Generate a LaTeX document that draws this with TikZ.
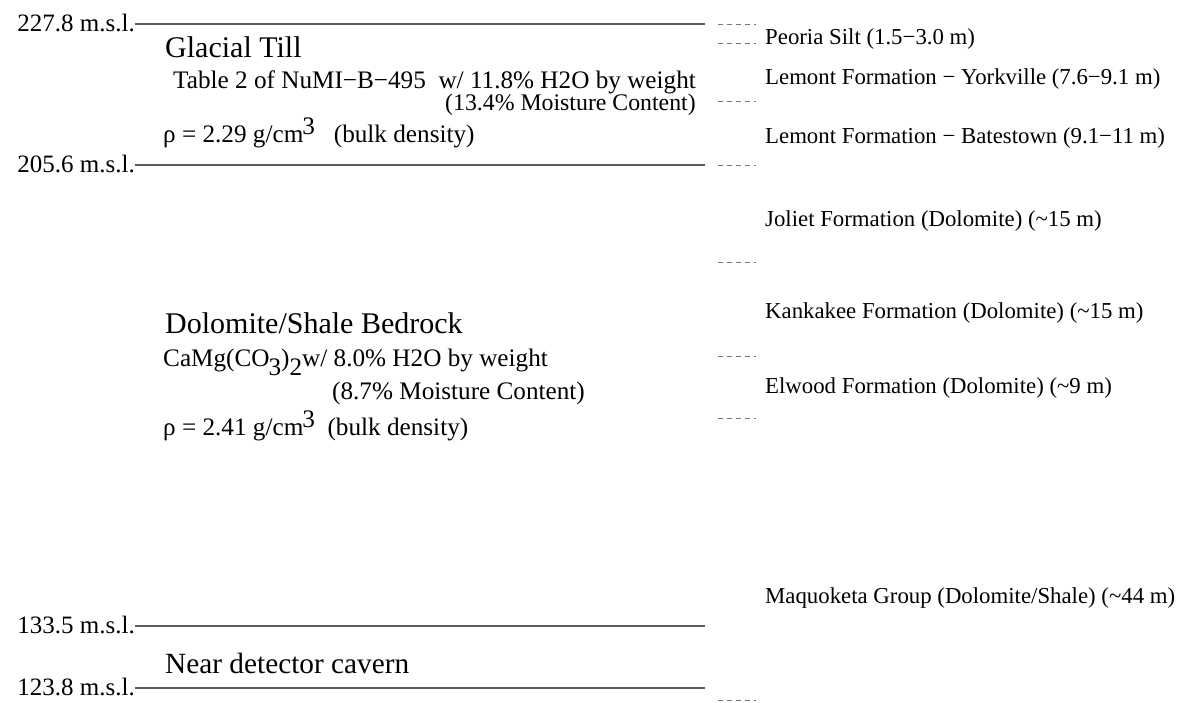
\documentclass[tikz,border=0pt]{standalone}
\usepackage{fontspec}
\setmainfont{Liberation Serif}
\usepackage{xcolor}
\usepackage{tikz}
\usetikzlibrary{positioning,calc}
\definecolor{bk70}{HTML}{5C5C5C}
\definecolor{bk50}{HTML}{7A7A7A}
\newcommand{\cmcube}{cm\kern-1pt\raisebox{8pt}{3}}
\tikzset{
  levellabel/.style={
    anchor=base east, inner sep=0pt,
    font=\fontsize{25}{28}\selectfont
  },
  layertitle/.style={
    anchor=base west, inner sep=0pt,
    font=\fontsize{30}{34}\selectfont
  },
  layerinfo/.style={
    anchor=base west, inner sep=0pt,
    font=\fontsize{25.2}{28}\selectfont
  },
  formlabel/.style={
    anchor=base west, inner sep=0pt,
    font=\fontsize{22.8}{26}\selectfont
  },
  levelline/.style={draw=bk70, line width=1.4pt},
  formtick/.style={draw=bk50, line width=0.8pt, dash pattern=on 5pt off 4pt},
}

\begin{document}
\begin{tikzpicture}[x=1pt,y=-1pt]
\useasboundingbox (0,0) rectangle (1195,702);

% Levels (m.s.l.)
\foreach \yy/\txt/\nm in {24/227.8/till, 165/205.6/rock, 626/133.5/cavtop, 688/123.8/cavbot}{
  \coordinate (\nm w) at (135,\yy);
  \coordinate (\nm e) at (705,\yy);
  \draw[levelline] (\nm w) -- (\nm e);
  \node[levellabel] (\nm lbl) at ([yshift=-7pt]\nm w) {\txt{} m.s.l.};
}

% Glacial till
\node[layertitle] (tilltitle) at (165,57) {Glacial Till};
\node[layerinfo] (tillwater) at (173,88) {Table 2 of NuMI−B−495\ \ w/ 11.8\% H2O by weight};
\node[layerinfo, font=\fontsize{23.8}{28}\selectfont] (tillmoist) at (445,110) {(13.4\% Moisture Content)};
\node[layerinfo] (tillrho) at (163,142) {ρ = 2.29 g/\cmcube\ \ \ (bulk density)};

% Bedrock
\node[layertitle] (rocktitle) at (165,333) {Dolomite/Shale Bedrock};
\node[layerinfo] (rockwater) at (163,366)
  {CaMg(CO\kern-1pt\raisebox{-9pt}{3})\raisebox{-9pt}{2}w/ 8.0\% H2O by weight};
\node[layerinfo] (rockmoist) at (332,399) {(8.7\% Moisture Content)};
\node[layerinfo] (rockrho) at (163,435) {ρ = 2.41 g/\cmcube\ \ (bulk density)};

% Cavern
\node[layertitle, font=\fontsize{29.3}{34}\selectfont] (cavern) at (165,673) {Near detector cavern};

% Formation boundaries
\foreach \yy in {24,43,101,165,262,356,418,700}
  \draw[formtick] (718,\yy) -- (756,\yy);

% Formations
\node[formlabel] (peoria) at (765,44) {Peoria Silt (1.5−3.0 m)};
\node[formlabel] (yorkville) at (765,84) {Lemont Formation − Yorkville (7.6−9.1 m)};
\node[formlabel] (batestown) at (765,143) {Lemont Formation − Batestown (9.1−11 m)};
\node[formlabel] (joliet) at (765,226) {Joliet Formation (Dolomite) (\textasciitilde15 m)};
\node[formlabel] (kankakee) at (765,318) {Kankakee Formation (Dolomite) (\textasciitilde15 m)};
\node[formlabel] (elwood) at (765,393) {Elwood Formation (Dolomite) (\textasciitilde9 m)};
\node[formlabel] (maquoketa) at (765,603) {Maquoketa Group (Dolomite/Shale) (\textasciitilde44 m)};

\end{tikzpicture}
\end{document}
